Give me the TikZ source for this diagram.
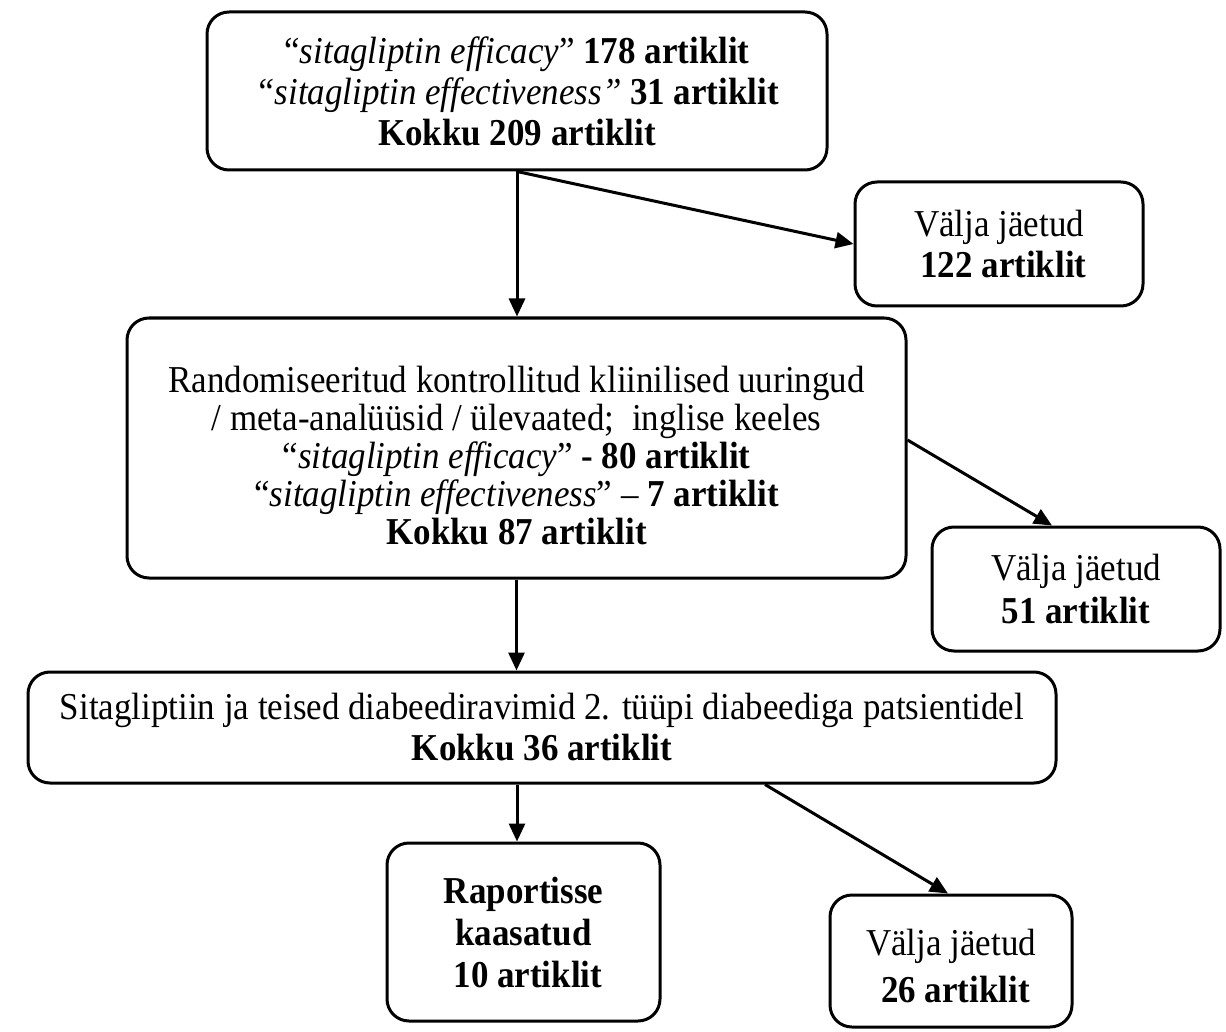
\documentclass[tikz,border=0pt]{standalone}
\usepackage{fontspec}
\setmainfont{Liberation Serif}[FakeStretch=0.92]
\usetikzlibrary{positioning,arrows.meta}

\begin{document}
\begin{tikzpicture}[x=0.5pt, y=-0.5pt,
  box/.style={draw, line width=1.5pt, rounded corners=11pt, fill=white,
    align=center, inner sep=2pt, font=\fontsize{19}{20.5}\selectfont},
  outbox/.style={box, minimum width=144pt, minimum height=62pt},
  arr/.style={-{Triangle[length=9pt,width=8pt]}, line width=1.5pt},
]
\useasboundingbox (0,0) rectangle (1226,1032);
\node[box, minimum width=310pt, minimum height=79pt] (search) at (517,91)
  {“\textit{sitagliptin efficacy}” \textbf{178 artiklit}\\
   \textit{“sitagliptin effectiveness”} \textbf{31 artiklit}\\
   \textbf{Kokku 209 artiklit}};
\node[outbox] (excl1) at (999,244) {Välja jäetud\\ ~\textbf{122 artiklit}};
\node[box, minimum width=389.5pt, minimum height=130pt,
  font=\fontsize{19}{19}\selectfont] (screen) at (516.5,448)
  {\rule{0pt}{21pt}Randomiseeritud kontrollitud kliinilised uuringud\\
   / meta-analüüsid / ülevaated;~ inglise keeles\\
   “\textit{sitagliptin efficacy}” \textbf{- 80 artiklit}\\
   “\textit{sitagliptin effectiveness}” – \textbf{7 artiklit}\\
   \textbf{Kokku 87 artiklit}};
\node[outbox] (excl2) at (1076,589) {Välja jäetud\\[1pt] \textbf{51 artiklit}};
\node[box, minimum width=514pt, minimum height=55.5pt] (pop) at (542,727.5)
  {Sitagliptiin ja teised diabeediravimid 2. tüüpi diabeediga patsientidel\\
   \textbf{Kokku 36 artiklit}};
\node[box, minimum width=136.5pt, minimum height=89pt,
  font=\bfseries\fontsize{19}{21}\selectfont] (incl) at (523.5,932)
  {Raportisse\\ kaasatud\\ ~10 artiklit};
\node[outbox, minimum width=121pt, minimum height=66pt] (excl3) at (951,961)
  {\rule{0pt}{18pt}Välja jäetud\\[3pt] ~\textbf{26 artiklit}};
% connectors
\draw[arr] (search.south) -- (search.south |- screen.north);
\draw[arr] (search.south) -- (excl1.west);
\draw[arr] (screen.south) -- (screen.south |- pop.north);
\draw[arr] ([yshift=4pt]screen.east) -- ([xshift=-12pt]excl2.north);
\draw[arr] ([xshift=-12.5pt]pop.south) -- ([xshift=-12.5pt]pop.south |- incl.north);
\draw[arr] ([xshift=111.5pt]pop.south) -- ([xshift=-1.5pt]excl3.north);
\end{tikzpicture}
\end{document}
